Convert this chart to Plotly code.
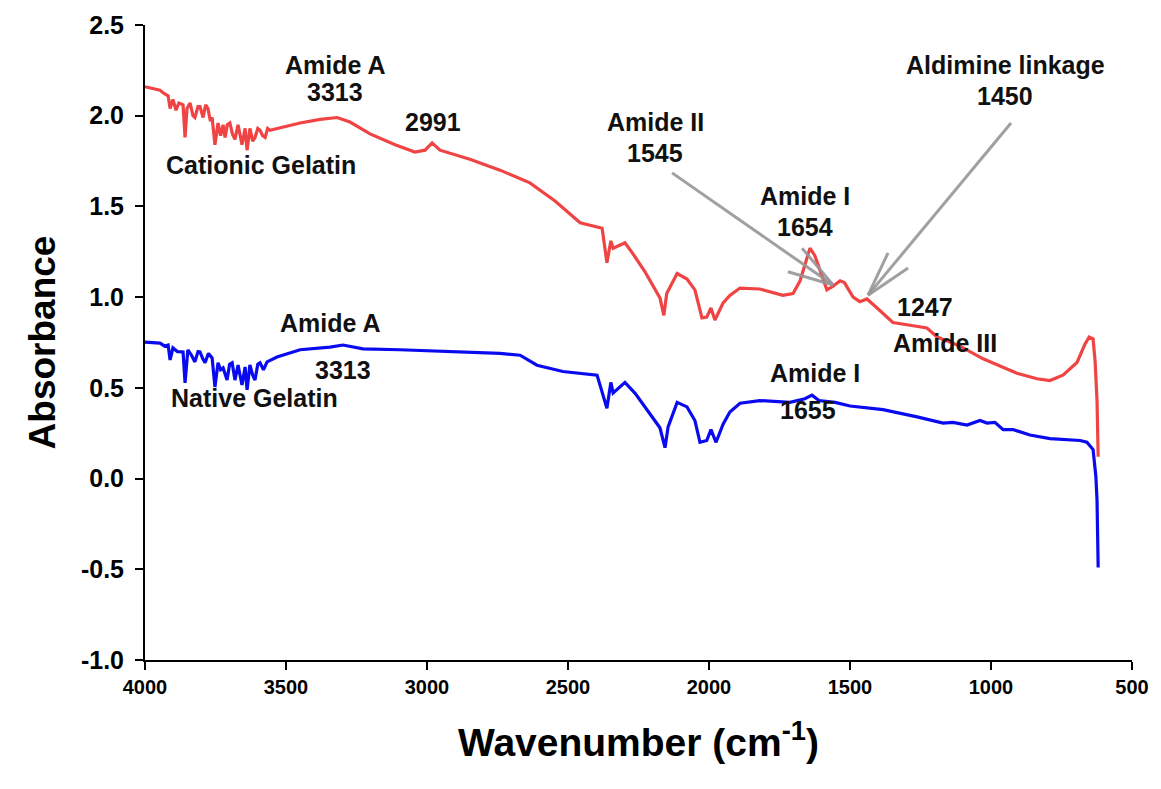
import plotly.graph_objects as go

# ---------------- data ----------------
wn_cationic = [4000, 3975, 3947, 3930, 3918, 3911, 3901, 3890, 3880, 3865, 3858, 3851, 3840, 3830, 3823,
               3812, 3805, 3794, 3785, 3777, 3768, 3762, 3752, 3741, 3732, 3723, 3716, 3708, 3699, 3690,
               3681, 3670, 3662, 3656, 3645, 3638, 3628, 3618, 3610, 3600, 3592, 3583, 3574, 3565,
               3557, 3532, 3450, 3379, 3319, 3273, 3202, 3113, 3043, 3007, 2982, 2954, 2848, 2741, 2635,
               2546, 2457, 2379, 2362, 2348, 2340, 2298, 2270, 2227, 2174, 2160, 2150, 2113, 2078, 2050,
               2025, 2008, 1993, 1979, 1950, 1926, 1890, 1820, 1738, 1702, 1677, 1642, 1625, 1600, 1582,
               1560, 1535, 1520, 1489, 1465, 1440, 1404, 1348, 1287, 1227, 1191, 1110, 1028, 968, 908,
               837, 791, 745, 695, 667, 652, 638, 631, 624, 620]
abs_cationic = [2.16, 2.15, 2.14, 2.12, 2.11, 2.04, 2.09, 2.03, 2.07, 2.06, 1.88, 2.04, 2.07, 2.00, 1.99,
                2.05, 2.05, 1.99, 2.06, 2.04, 1.97, 1.99, 1.84, 1.96, 1.89, 1.95, 1.88, 1.95, 1.96, 1.90,
                1.87, 1.95, 1.89, 1.84, 1.93, 1.81, 1.93, 1.86, 1.88, 1.93, 1.92, 1.89, 1.88, 1.93,
                1.92, 1.93, 1.96, 1.98, 1.99, 1.965, 1.90, 1.84, 1.80, 1.81, 1.85, 1.81, 1.76, 1.70, 1.63,
                1.53, 1.41, 1.38, 1.19, 1.31, 1.27, 1.30, 1.24, 1.14, 0.996, 0.90, 1.02, 1.13, 1.10, 1.04,
                0.886, 0.89, 0.94, 0.874, 0.968, 1.01, 1.05, 1.045, 1.01, 1.02, 1.09, 1.27, 1.23, 1.12, 1.04,
                1.06, 1.09, 1.08, 1.00, 0.975, 0.99, 0.94, 0.86, 0.845, 0.83, 0.78, 0.73, 0.66, 0.62, 0.58,
                0.55, 0.54, 0.57, 0.64, 0.74, 0.78, 0.77, 0.65, 0.43, 0.12]

wn_native = [4000, 3975, 3947, 3930, 3918, 3911, 3901, 3885, 3865, 3858, 3848, 3835, 3823, 3812, 3805,
             3795, 3787, 3775, 3762, 3752, 3741, 3732, 3723, 3709, 3700, 3691, 3681, 3670, 3663, 3656,
             3645, 3638, 3628, 3618, 3610, 3600, 3592, 3580, 3567, 3532, 3450, 3344,
             3298, 3227, 3096, 2872, 2741, 2670, 2610, 2518, 2397, 2362, 2348, 2340, 2298, 2262, 2174,
             2156, 2145, 2113, 2078, 2050, 2032, 2008, 1993, 1975, 1950, 1926, 1890, 1820, 1713, 1660,
             1635, 1610, 1553, 1500, 1440, 1383, 1262, 1170, 1135, 1085, 1039, 1014, 986, 957, 922,
             862, 791, 684, 660, 649, 638, 628, 624, 620]
abs_native = [0.752, 0.75, 0.747, 0.73, 0.736, 0.654, 0.72, 0.70, 0.698, 0.527, 0.709, 0.68, 0.643, 0.70, 0.698,
              0.66, 0.638, 0.69, 0.665, 0.505, 0.638, 0.60, 0.61, 0.543, 0.63, 0.638, 0.543, 0.626, 0.58, 0.516,
              0.615, 0.489, 0.626, 0.57, 0.543, 0.63, 0.638, 0.60, 0.643, 0.67, 0.71, 0.725,
              0.736, 0.715, 0.71, 0.70, 0.69, 0.68, 0.625, 0.59, 0.57, 0.388, 0.53, 0.472, 0.53, 0.47, 0.28,
              0.17, 0.285, 0.42, 0.395, 0.32, 0.20, 0.21, 0.27, 0.20, 0.30, 0.367, 0.415, 0.43, 0.42, 0.44,
              0.46, 0.43, 0.42, 0.40, 0.39, 0.38, 0.34, 0.306, 0.31, 0.295, 0.32, 0.306, 0.31, 0.27, 0.27,
              0.24, 0.22, 0.21, 0.20, 0.18, 0.16, 0.01, -0.12, -0.49]

x_ticks = [4000, 3500, 3000, 2500, 2000, 1500, 1000, 500]
y_ticks = [-1.0, -0.5, 0.0, 0.5, 1.0, 1.5, 2.0, 2.5]

# labels: (text, wavenumber, absorbance)
labels = [
    ("Amide A", 3326, 2.28), ("3313", 3326, 2.131), ("2991", 2979, 1.965),
    ("Cationic Gelatin", 3589, 1.729),
    ("Amide II", 2191, 1.965), ("1545", 2191, 1.795),
    ("Amide I", 1660, 1.557), ("1654", 1660, 1.386),
    ("Aldimine linkage", 950, 2.28), ("1450", 950, 2.109),
    ("1247", 1234, 0.946), ("Amide III", 1163, 0.747),
    ("Amide A", 3344, 0.858), ("3313", 3298, 0.599), ("Native Gelatin", 3610, 0.444),
    ("Amide I", 1624, 0.582), ("1655", 1649, 0.378),
]

# arrows: shaft start, tip, two barb ends (wavenumber, absorbance)
arrows = [
    [(2131, 1.685), (1560, 1.067), (1720, 1.14), (1670, 1.27)],
    [(929, 1.96), (1436, 1.011), (1365, 1.244), (1294, 1.161)],
]

RED = "#f04444"
BLUE = "#0a0af0"
BOLD = "Liberation Sans, Arial, sans-serif"

fig = go.Figure()
fig.add_trace(go.Scatter(x=wn_cationic, y=abs_cationic, mode="lines",
                         line=dict(color=RED, width=3.2), name="Cationic Gelatin"))
fig.add_trace(go.Scatter(x=wn_native, y=abs_native, mode="lines",
                         line=dict(color=BLUE, width=3.2), name="Native Gelatin"))

for text, x, y in labels:
    fig.add_annotation(x=x, y=y, text="<b>%s</b>" % text, showarrow=False,
                       font=dict(family=BOLD, size=25, color="#111111"),
                       xanchor="center", yanchor="middle")

for a in arrows:
    start, tip, b1, b2 = a
    for p in (start, b1, b2):
        fig.add_shape(type="line", x0=p[0], y0=p[1], x1=tip[0], y1=tip[1],
                      line=dict(color="rgba(150,150,150,0.9)", width=3))

fig.update_layout(
    width=1161, height=789,
    margin=dict(l=145, r=29, t=25, b=129),
    paper_bgcolor="white", plot_bgcolor="white",
    showlegend=False,
    xaxis=dict(range=[4000, 500], tickvals=x_ticks, ticktext=["<b>%d</b>" % v for v in x_ticks],
               showgrid=False, zeroline=False, showline=True, linecolor="black", linewidth=2,
               ticks="outside", ticklen=8, tickwidth=2, tickcolor="black",
               tickfont=dict(family=BOLD, size=20, color="black"),
               title=dict(text="<b>Wavenumber (cm<sup>-1</sup>)</b>",
                          font=dict(family=BOLD, size=39, color="black"), standoff=32)),
    yaxis=dict(range=[-1.0, 2.5], tickvals=y_ticks, ticktext=["<b>%.1f</b>" % v for v in y_ticks],
               showgrid=False, zeroline=False, showline=True, linecolor="black", linewidth=2,
               ticks="outside", ticklen=8, tickwidth=2, tickcolor="black",
               ticklabelstandoff=6,
               tickfont=dict(family=BOLD, size=25, color="black"),
               title=dict(text="<b>Absorbance</b>",
                          font=dict(family=BOLD, size=37, color="black"), standoff=14)),
)

fig.write_html("out.html")
